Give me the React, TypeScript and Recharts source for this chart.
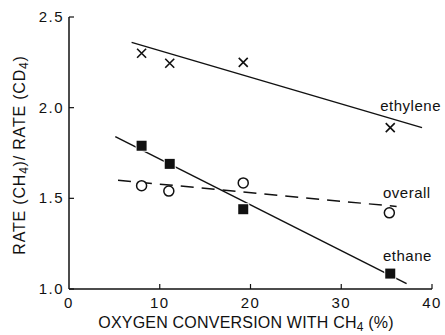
import React from "react";
import {
  ComposedChart,
  Line,
  Scatter,
  XAxis,
  YAxis,
  ReferenceDot,
  Label,
} from "recharts";

// Measured points
const ethyleneX = [8.0, 11.1, 19.2, 35.4];
const ethyleneY = [2.3, 2.245, 2.25, 1.89];
const ethaneX = [8.0, 11.1, 19.2, 35.4];
const ethaneY = [1.79, 1.69, 1.44, 1.085];
const overallX = [8.0, 11.0, 19.2, 35.3];
const overallY = [1.57, 1.54, 1.585, 1.42];

// Fitted lines (end points)
const ethyleneFitX = [6.9, 38.9];
const ethyleneFitY = [2.36, 1.89];
const ethaneFitX = [5.1, 37.2];
const ethaneFitY = [1.84, 1.03];
const overallFitX = [5.4, 36.1];
const overallFitY = [1.6, 1.455];

const xTicks = [0, 10, 20, 30, 40];
const yTicks = [1.0, 1.5, 2.0, 2.5];

const seriesLabels = [
  { text: "ethylene", x: 34.3, y: 2.01 },
  { text: "overall", x: 34.6, y: 1.53 },
  { text: "ethane", x: 34.6, y: 1.18 },
];

const zip = (xs: number[], ys: number[]) => xs.map((x, i) => ({ x, y: ys[i] }));

const FONT = "'Liberation Sans', Arial, Helvetica, sans-serif";
const INK = "#111";

const XTick = (props: any) => {
  const { x, y, payload } = props;
  return (
    <g>
      {payload.value !== 0 && (
        <line x1={x} y1={y} x2={x} y2={y - 5} stroke={INK} strokeWidth={1.2} />
      )}
      <text
        x={x}
        y={y + 19}
        textAnchor="middle"
        fontFamily={FONT}
        fontSize={15}
        letterSpacing={1.5}
        fill={INK}
      >
        {payload.value}
      </text>
    </g>
  );
};

const YTick = (props: any) => {
  const { x, y, payload } = props;
  return (
    <g>
      <line x1={x} y1={y} x2={x + 5} y2={y} stroke={INK} strokeWidth={1.2} />
      <text
        x={x - 5}
        y={y + 5}
        textAnchor="end"
        fontFamily={FONT}
        fontSize={15}
        letterSpacing={1.5}
        fill={INK}
      >
        {Number(payload.value).toFixed(1)}
      </text>
    </g>
  );
};

const Cross = (props: any) => {
  const { cx, cy } = props;
  const s = 4.5;
  return (
    <path
      d={`M${cx - s},${cy - s}L${cx + s},${cy + s}M${cx - s},${cy + s}L${cx + s},${cy - s}`}
      stroke={INK}
      strokeWidth={1.6}
      fill="none"
    />
  );
};

const Square = (props: any) => {
  const { cx, cy } = props;
  const s = 5;
  return (
    <rect
      x={cx - s}
      y={cy - s}
      width={2 * s}
      height={2 * s}
      fill={INK}
      stroke="#fff"
      strokeWidth={2}
      paintOrder="stroke"
    />
  );
};

const Circle = (props: any) => {
  const { cx, cy } = props;
  return <circle cx={cx} cy={cy} r={5} fill="#fff" stroke={INK} strokeWidth={1.5} />;
};

export default function App() {
  return (
    <div style={{ position: "absolute", left: 0, top: 0, background: "#fff" }}>
      <ComposedChart
        width={445}
        height={335}
        margin={{ top: 17, right: 13, left: 0, bottom: 0 }}
      >
        <XAxis
          type="number"
          dataKey="x"
          domain={[0, 40]}
          ticks={xTicks}
          allowDataOverflow
          axisLine={{ stroke: INK, strokeWidth: 1.5 }}
          tickLine={false}
          tickSize={0}
          tickMargin={0}
          tick={<XTick />}
          height={46}
          interval={0}
        >
          <Label
            content={() => (
              <text
                x={246}
                y={328}
                textAnchor="middle"
                fontFamily={FONT}
                fontSize={16}
                letterSpacing={0.2}
                fill={INK}
              >
                OXYGEN CONVERSION WITH CH
                <tspan fontSize={12} dy={3}>4</tspan>
                <tspan dy={-3}> (%)</tspan>
              </text>
            )}
          />
        </XAxis>
        <YAxis
          type="number"
          dataKey="y"
          domain={[1.0, 2.5]}
          ticks={yTicks}
          allowDataOverflow
          axisLine={{ stroke: INK, strokeWidth: 1.5 }}
          tickLine={false}
          tickSize={0}
          tickMargin={0}
          tick={<YTick />}
          width={69}
          interval={0}
        >
          <Label
            content={() => (
              <text
                x={25}
                y={155}
                transform="rotate(-90 25 155)"
                textAnchor="middle"
                fontFamily={FONT}
                fontSize={16}
                letterSpacing={0.8}
                fill={INK}
              >
                RATE (CH
                <tspan fontSize={12} dy={3}>4</tspan>
                <tspan dy={-3}>)/ RATE (CD</tspan>
                <tspan fontSize={12} dy={3}>4</tspan>
                <tspan dy={-3}>)</tspan>
              </text>
            )}
          />
        </YAxis>

        <Line
          data={zip(ethyleneFitX, ethyleneFitY)}
          dataKey="y"
          type="linear"
          stroke={INK}
          strokeWidth={1.5}
          dot={false}
          activeDot={false}
          isAnimationActive={false}
        />
        <Line
          data={zip(ethaneFitX, ethaneFitY)}
          dataKey="y"
          type="linear"
          stroke={INK}
          strokeWidth={1.5}
          dot={false}
          activeDot={false}
          isAnimationActive={false}
        />
        <Line
          data={zip(overallFitX, overallFitY)}
          dataKey="y"
          type="linear"
          stroke={INK}
          strokeWidth={1.5}
          strokeDasharray="13 8"
          dot={false}
          activeDot={false}
          isAnimationActive={false}
        />

        <Scatter
          data={zip(ethyleneX, ethyleneY)}
          dataKey="y"
          shape={<Cross />}
          isAnimationActive={false}
        />
        <Scatter
          data={zip(ethaneX, ethaneY)}
          dataKey="y"
          shape={<Square />}
          isAnimationActive={false}
        />
        <Scatter
          data={zip(overallX, overallY)}
          dataKey="y"
          shape={<Circle />}
          isAnimationActive={false}
        />

        {seriesLabels.map((l) => (
          <ReferenceDot
            key={l.text}
            x={l.x}
            y={l.y}
            r={0}
            fill="none"
            stroke="none"
            ifOverflow="visible"
            label={(p: any) => (
              <text
                x={p.viewBox.x}
                y={p.viewBox.y + 5}
                fontFamily={FONT}
                fontSize={15}
                letterSpacing={0.5}
                fill={INK}
              >
                {l.text}
              </text>
            )}
          />
        ))}
      </ComposedChart>
    </div>
  );
}
